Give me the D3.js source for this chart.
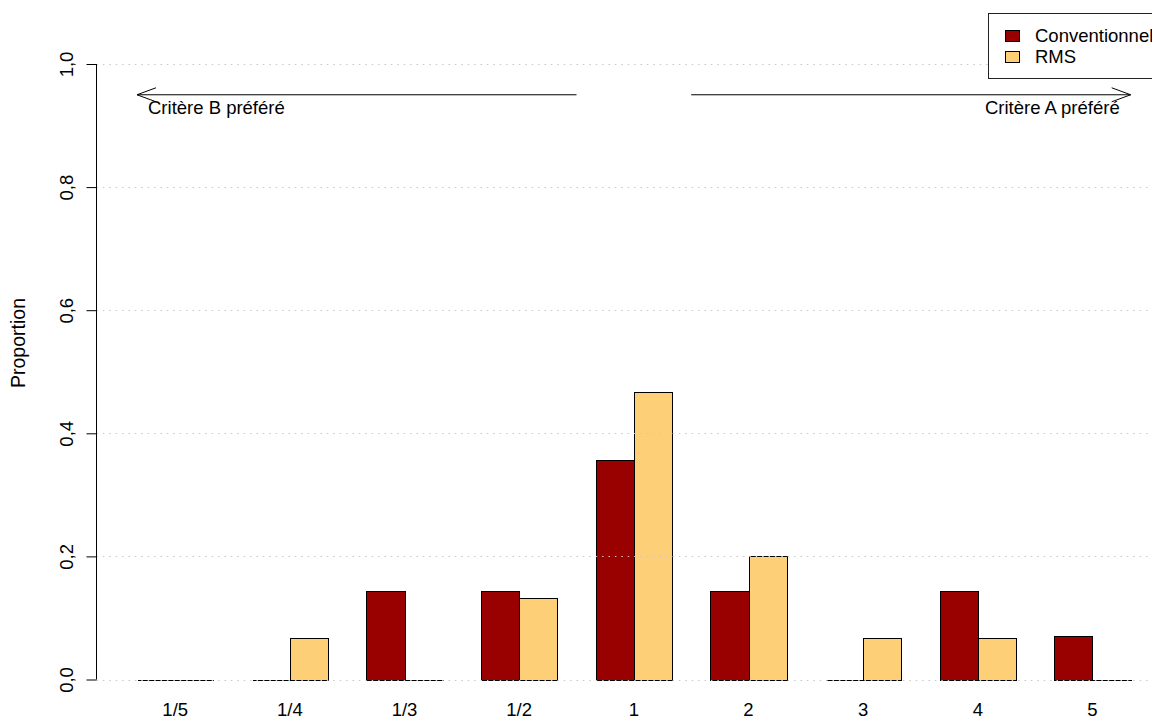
<!DOCTYPE html>
<html>
<head>
<meta charset="utf-8">
<script src="https://cdn.jsdelivr.net/npm/d3@7"></script>
<style>
  html, body { margin: 0; padding: 0; background: #fff; }
  svg { display: block; font-family: "Liberation Sans", Arial, Helvetica, sans-serif; }
</style>
</head>
<body>
<svg id="chart" width="1152" height="719"></svg>
<script>
// ---- data ----
const categories = ["1/5", "1/4", "1/3", "1/2", "1", "2", "3", "4", "5"];
const conventionnel = [0, 0, 0.143, 0.143, 0.357, 0.143, 0, 0.143, 0.071];
const rms = [0, 0.067, 0, 0.133, 0.467, 0.2, 0.067, 0.067, 0];
const seriesNames = ["Conventionnel", "RMS"];
const seriesColors = ["#990000", "#FDD078"];
const yTicks = [0, 0.2, 0.4, 0.6, 0.8, 1.0];
const yTickLabels = ["0,0", "0,2", "0,4", "0,6", "0,8", "1,0"];
const arrowLabels = ["Critère B préféré", "Critère A préféré"];
const yTitle = "Proportion";

// ---- layout ----
const W = 1152, H = 719;
const svg = d3.select("#chart");

// bar units as in R barplot (space = c(0,1)): group i occupies units 3i+1 .. 3i+3
const x = d3.scaleLinear().domain([1, 27]).range([137, 1130.7]);
const y = d3.scaleLinear().domain([0, 1]).range([679.5, 64]);
const axisX = 96.5;
const fs = 18.5;

const series = [conventionnel, rms];
const bars = [];
categories.forEach((c, i) => {
  series.forEach((s, j) => {
    bars.push({ cat: c, i, j, v: s[i], u0: 3 * i + 1 + j, u1: 3 * i + 2 + j });
  });
});

// bars (as paths so zero-height bars still show their outline)
const r = v => Math.round(v) + 0.5;
svg.append("g").selectAll("path").data(bars).join("path")
  .attr("d", d => {
    const x0 = r(x(d.u0)), x1 = r(x(d.u1));
    const y0 = r(y(0)), y1 = r(y(d.v));
    return `M${x0},${y0}V${y1}H${x1}V${y0}Z`;
  })
  .attr("fill", d => seriesColors[d.j])
  .attr("stroke", "#000")
  .attr("stroke-width", 1)
  .attr("shape-rendering", "crispEdges");

// grid lines (dotted, drawn on top of bars)
svg.append("g").selectAll("line").data(yTicks).join("line")
  .attr("x1", axisX).attr("x2", W)
  .attr("y1", d => r(y(d))).attr("y2", d => r(y(d)))
  .attr("stroke", "#c9c9c9")
  .attr("stroke-width", 1)
  .attr("stroke-dasharray", "1.5,4.9");

// y axis
const yAxis = d3.axisLeft(y).tickValues(yTicks)
  .tickFormat((d, i) => yTickLabels[i]).tickSize(10).tickPadding(0);
const gy = svg.append("g").attr("transform", `translate(${axisX},0)`).call(yAxis);
gy.select(".domain").attr("d", `M0,${y(1)}V${y(0)}`).attr("stroke", "#000");
gy.selectAll(".tick line").attr("stroke", "#000");
gy.selectAll(".tick text").remove();
gy.selectAll(".tick").append("text")
  .attr("transform", "translate(-30,0) rotate(-90)")
  .attr("text-anchor", "middle")
  .attr("dy", "0.35em")
  .attr("fill", "#000")
  .attr("font-size", fs)
  .attr("font-family", "Liberation Sans, Arial, sans-serif")
  .text((d, i) => yTickLabels[i]);

// y title
svg.append("text")
  .attr("transform", `translate(25,${343}) rotate(-90)`)
  .attr("text-anchor", "middle")
  .attr("font-size", 19.5)
  .text(yTitle);

// x category labels
svg.append("g").selectAll("text").data(categories).join("text")
  .attr("x", (d, i) => x(3 * i + 2))
  .attr("y", 716)
  .attr("text-anchor", "middle")
  .attr("font-size", fs)
  .text(d => d);

// arrows
const arrowY = y(0.95);
function arrow(u0, u1) {
  const xa = x(u0), xb = x(u1);
  const dir = Math.sign(xb - xa);
  const g = svg.append("g").attr("stroke", "#000").attr("fill", "none").attr("stroke-width", 1);
  g.append("line").attr("x1", xa).attr("x2", xb).attr("y1", arrowY).attr("y2", arrowY);
  g.append("path").attr("d",
    `M${xb - dir * 19},${arrowY - 7}L${xb},${arrowY}L${xb - dir * 19},${arrowY + 7}`);
}
arrow(12.5, 1);
arrow(15.5, 27);

svg.append("text").attr("x", x(1) + 11).attr("y", y(0.95) + 19.5)
  .attr("font-size", fs).attr("text-anchor", "start").text(arrowLabels[0]);
svg.append("text").attr("x", x(27) - 11).attr("y", y(0.95) + 19.5)
  .attr("font-size", fs).attr("text-anchor", "end").text(arrowLabels[1]);

// legend
const lg = svg.append("g");
lg.append("rect").attr("x", 988.5).attr("y", 13.5).attr("width", 300).attr("height", 65)
  .attr("fill", "#fff").attr("stroke", "#222").attr("stroke-width", 1);
seriesNames.forEach((n, k) => {
  const cy = 35 + k * 21.5;
  lg.append("rect").attr("x", 1005.5).attr("y", Math.round(cy - 5.5) + 0.5)
    .attr("width", 14).attr("height", 11)
    .attr("fill", seriesColors[k]).attr("stroke", "#000").attr("stroke-width", 1);
  lg.append("text").attr("x", 1035).attr("y", cy).attr("dy", "0.36em")
    .attr("font-size", fs).text(n);
});
</script>
</body>
</html>
